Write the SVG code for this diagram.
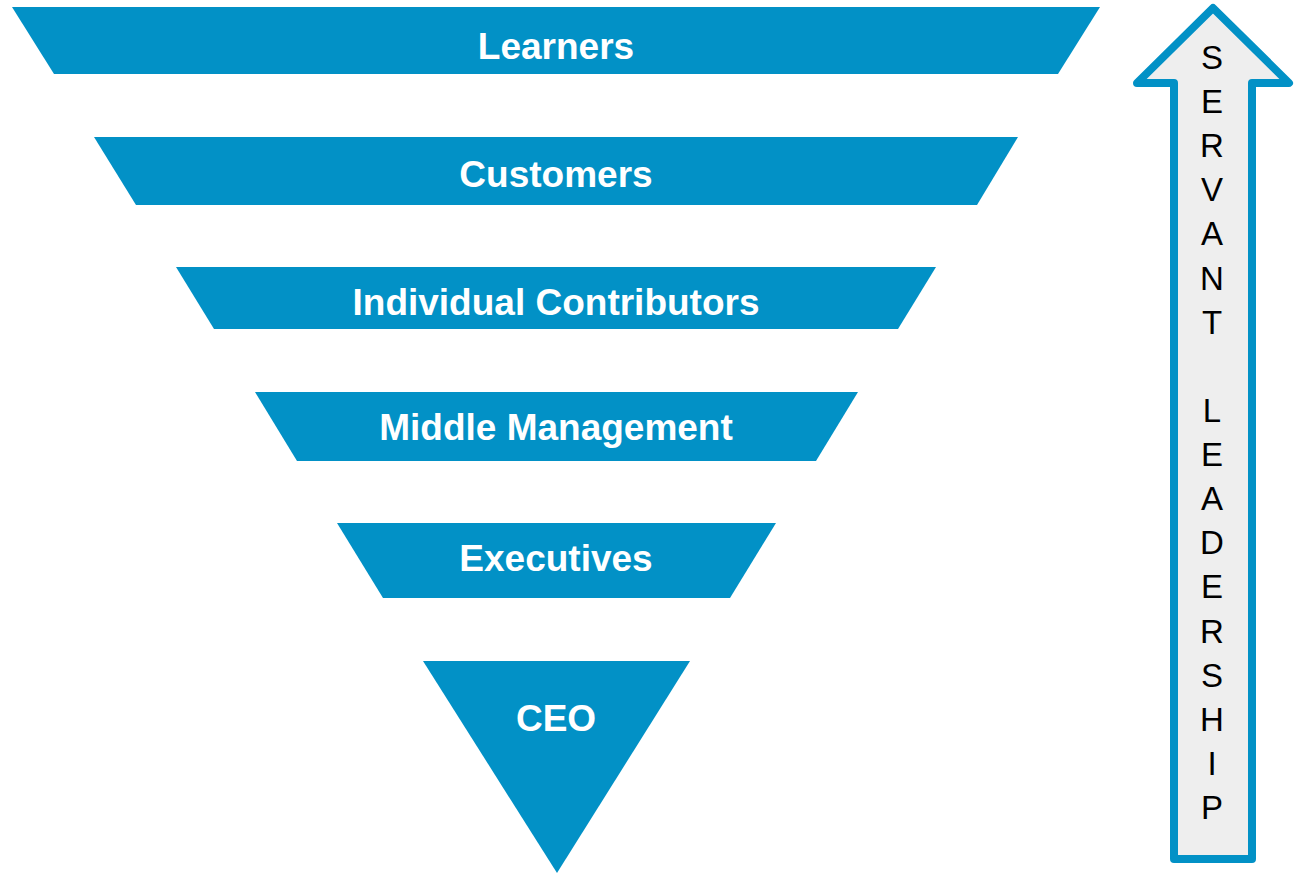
<svg xmlns="http://www.w3.org/2000/svg" width="1299" height="873" viewBox="0 0 1299 873">
<style>
.tier{fill:#0291c6;}
.lbl{font-family:"Liberation Sans",Arial,sans-serif;font-weight:bold;font-size:37px;fill:#ffffff;text-anchor:middle;}
.vl{font-family:"Liberation Sans",Arial,sans-serif;font-size:33px;fill:#000000;text-anchor:middle;}
</style>
<rect width="1299" height="873" fill="#ffffff"/>
<g id="learners">
<polygon class="tier" points="12,7 1100,7 1058,74 54,74"/>
<text class="lbl" x="556" y="59">Learners</text>
</g>
<g id="customers">
<polygon class="tier" points="94,137 1018,137 977,205 136,205"/>
<text class="lbl" x="556" y="187">Customers</text>
</g>
<g id="individual-contributors">
<polygon class="tier" points="176,267 936,267 898,329 214,329"/>
<text class="lbl" x="556" y="315">Individual Contributors</text>
</g>
<g id="middle-management">
<polygon class="tier" points="255,392 858,392 816,461 297,461"/>
<text class="lbl" x="556" y="440">Middle Management</text>
</g>
<g id="executives">
<polygon class="tier" points="337,523 776,523 730,598 383,598"/>
<text class="lbl" x="556" y="571">Executives</text>
</g>
<g id="ceo">
<polygon class="tier" points="423,661 690,661 557,873"/>
<text class="lbl" x="556" y="731">CEO</text>
</g>
<g id="servant-leadership">
<polygon points="1213,8 1289,83 1252,83 1252,859 1174,859 1174,83 1137,83" fill="#eeeeee" stroke="#0291c6" stroke-width="8" stroke-linejoin="round"/>
<text class="vl" x="1212" y="69">S</text>
<text class="vl" x="1212" y="113">E</text>
<text class="vl" x="1212" y="157">R</text>
<text class="vl" x="1212" y="201">V</text>
<text class="vl" x="1212" y="245">A</text>
<text class="vl" x="1212" y="290">N</text>
<text class="vl" x="1212" y="334">T</text>
<text class="vl" x="1212" y="422">L</text>
<text class="vl" x="1212" y="466">E</text>
<text class="vl" x="1212" y="510">A</text>
<text class="vl" x="1212" y="554">D</text>
<text class="vl" x="1212" y="598">E</text>
<text class="vl" x="1212" y="643">R</text>
<text class="vl" x="1212" y="687">S</text>
<text class="vl" x="1212" y="731">H</text>
<text class="vl" x="1212" y="775">I</text>
<text class="vl" x="1212" y="819">P</text>
</g>
<g id="connectors"></g>
</svg>
